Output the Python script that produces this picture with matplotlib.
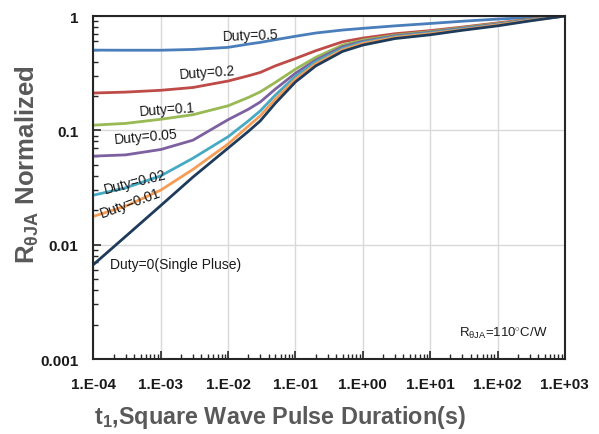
import numpy as np
import matplotlib
matplotlib.use("Agg")
import matplotlib.pyplot as plt
from matplotlib.ticker import LogLocator, FixedLocator, FixedFormatter, NullFormatter

plt.rcParams['font.family'] = ['Liberation Sans', 'DejaVu Sans']
plt.rcParams['mathtext.fontset'] = 'custom'
plt.rcParams['mathtext.rm'] = 'Liberation Sans'
plt.rcParams['mathtext.it'] = 'Liberation Sans'
plt.rcParams['mathtext.bf'] = 'Liberation Sans:bold'

# pulse duration (s)
t_pulse = [1e-4, 3e-4, 1e-3, 3e-3, 1e-2, 2e-2, 3e-2, 5e-2, 1e-1, 2e-1, 5e-1,
           1, 3, 10, 30, 100, 300, 1000]

# normalized thermal impedance
duty_05 = [0.503, 0.502, 0.502, 0.510, 0.532, 0.568, 0.588, 0.620, 0.665, 0.710, 0.754,
           0.780, 0.820, 0.860, 0.900, 0.940, 0.970, 1.0]
duty_02 = [0.212, 0.216, 0.224, 0.237, 0.270, 0.300, 0.321, 0.366, 0.425, 0.497, 0.595,
           0.641, 0.700, 0.745, 0.800, 0.870, 0.935, 1.0]
duty_01 = [0.111, 0.115, 0.125, 0.137, 0.164, 0.194, 0.217, 0.262, 0.343, 0.435, 0.557,
           0.616, 0.680, 0.730, 0.790, 0.860, 0.930, 1.0]
duty_005 = [0.0595, 0.061, 0.068, 0.082, 0.124, 0.153, 0.177, 0.229, 0.316, 0.411, 0.538,
            0.600, 0.670, 0.720, 0.780, 0.850, 0.925, 1.0]
duty_002 = [0.0271, 0.0314, 0.040, 0.057, 0.088, 0.121, 0.148, 0.203, 0.296, 0.398, 0.521,
            0.587, 0.660, 0.710, 0.770, 0.840, 0.920, 1.0]
duty_001 = [0.0177, 0.0217, 0.030, 0.0455, 0.076, 0.109, 0.134, 0.187, 0.280, 0.382, 0.506,
            0.575, 0.650, 0.700, 0.760, 0.835, 0.915, 1.0]
single = [0.0067, 0.0118, 0.022, 0.039, 0.070, 0.098, 0.121, 0.172, 0.265, 0.366, 0.490,
          0.557, 0.635, 0.685, 0.750, 0.820, 0.905, 1.0]

series = [duty_05, duty_02, duty_01, duty_005, duty_002, duty_001, single]
colors = ['#4A7EBB', '#BE4B48', '#98B954', '#7D60A0', '#46AAC5', '#F59D56', '#1F3B5C']

# curve labels: text, (x, y) in axes fraction, rotation
labels = ['Duty=0.5', 'Duty=0.2', 'Duty=0.1', 'Duty=0.05', 'Duty=0.02', 'Duty=0.01',
          'Duty=0(Single Pluse)']
label_pos = [(0.275, 0.943), (0.182, 0.831), (0.098, 0.723), (0.045, 0.640),
             (0.022, 0.496), (0.014, 0.423), (0.036, 0.278)]
label_rot = [2, 4, 4, 5, 14, 20, 0]

xticks = [1e-4, 1e-3, 1e-2, 1e-1, 1, 10, 100, 1000]
xtick_labels = ['1.E-04', '1.E-03', '1.E-02', '1.E-01', '1.E+00', '1.E+01', '1.E+02', '1.E+03']
yticks = [0.001, 0.01, 0.1, 1]
ytick_labels = ['0.001', '0.01', '0.1', '1']

fig = plt.figure(figsize=(5.99, 4.35), dpi=100)
ax = fig.add_axes([0.156, 0.1724, 0.787, 0.7885])

for ys, c in zip(series, colors):
    ax.plot(t_pulse, ys, color=c, lw=2, solid_capstyle='round', solid_joinstyle='round')

ax.set_xscale('log')
ax.set_yscale('log')
ax.set_xlim(1e-4, 1e3)
ax.set_ylim(1e-3, 1)

ax.xaxis.set_major_locator(FixedLocator(xticks))
ax.xaxis.set_major_formatter(FixedFormatter(xtick_labels))
ax.yaxis.set_major_locator(FixedLocator(yticks))
ax.yaxis.set_major_formatter(FixedFormatter(ytick_labels))
ax.xaxis.set_minor_locator(LogLocator(base=10, subs=np.arange(2, 10), numticks=20))
ax.yaxis.set_minor_locator(LogLocator(base=10, subs=np.arange(2, 10), numticks=20))
ax.xaxis.set_minor_formatter(NullFormatter())
ax.yaxis.set_minor_formatter(NullFormatter())

ax.tick_params(which='major', direction='in', length=6, width=1.2, color='#262626')
ax.tick_params(which='minor', direction='in', length=3.5, width=1, color='#262626')
ax.tick_params(axis='x', which='major', pad=13, labelsize=11, labelcolor='#1a1a1a')
ax.tick_params(axis='y', which='major', pad=11, labelsize=11, labelcolor='#1a1a1a')
for lab in ax.get_xticklabels() + ax.get_yticklabels():
    lab.set_fontweight('bold')

ax.grid(True, which='major', color='#D9D9D9', lw=1)
ax.set_axisbelow(True)
for sp in ax.spines.values():
    sp.set_color('#262626')
    sp.set_linewidth(1.5)

ax.set_xlabel(r'$\mathbf{t_1}$,Square Wave Pulse Duration(s)', fontsize=16.8,
              fontweight='bold', color='#595959')
ax.xaxis.set_label_coords(0.396, -0.128)
ax.set_ylabel(r'$\mathbf{R_{θJA}}$ Normalized', fontsize=18.5,
              fontweight='bold', color='#595959')
ax.yaxis.set_label_coords(-0.112, 0.568)

for txt, (px, py), rot in zip(labels, label_pos, label_rot):
    ax.text(px, py, txt, transform=ax.transAxes, fontsize=10, color='#1a1a1a',
            ha='left', va='center', rotation=rot, rotation_mode='anchor')

ax.text(0.964, 0.079, r'R$_{\mathrm{θJA}}$=110$^{\circ}$C/W', transform=ax.transAxes,
        fontsize=9.5, color='#1a1a1a', ha='right', va='center')

fig.savefig('out.png', dpi=100)
